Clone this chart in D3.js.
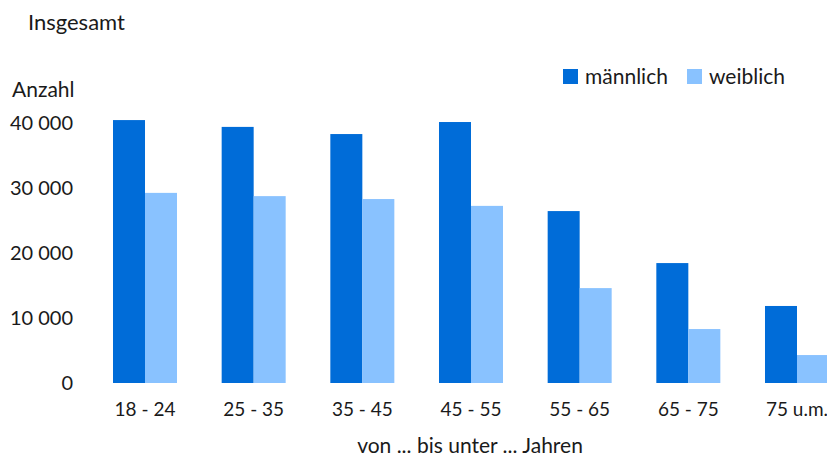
<!DOCTYPE html>
<html>
<head>
<meta charset="utf-8">
<script src="https://cdn.jsdelivr.net/npm/d3@7"></script>
<style>
  body { margin: 0; background: #fff; }
  text { font-family: Lato, "Noto Sans", sans-serif; fill: #1a1a1a; }
</style>
</head>
<body>
<div id="chart"></div>
<script>
var categories = ["18 - 24", "25 - 35", "35 - 45", "45 - 55", "55 - 65", "65 - 75", "75 u.m."];
var seriesNames = ["männlich", "weiblich"];
var maennlich = [40450, 39400, 38300, 40150, 26450, 18450, 11850];
var weiblich = [29250, 28750, 28300, 27250, 14600, 8300, 4300];
var yTicks = [0, 10000, 20000, 30000, 40000];
var colors = ["#006cd8", "#89c2ff"];

var width = 827, height = 458;
var svg = d3.select("#chart").append("svg").attr("width", width).attr("height", height);

var x0 = d3.scaleBand().domain(categories).range([113, 829]).paddingInner(0.411).paddingOuter(0);
var x1 = d3.scaleBand().domain(seriesNames).range([0, x0.bandwidth()]);
var y = d3.scaleLinear().domain([0, 40000]).range([383, 123]);

var fmt = function (d) { return d3.format(",")(d).replace(/,/g, " "); };

var rows = categories.map(function (c, i) {
  return { cat: c, values: [maennlich[i], weiblich[i]] };
});

var groups = svg.append("g").selectAll("g").data(rows).enter().append("g")
  .attr("transform", function (d) { return "translate(" + x0(d.cat) + ",0)"; });

groups.selectAll("rect").data(function (d) { return d.values; }).enter().append("rect")
  .attr("x", function (d, i) { return x1(seriesNames[i]); })
  .attr("width", x1.bandwidth())
  .attr("y", function (d) { return y(d); })
  .attr("height", function (d) { return y(0) - y(d); })
  .attr("fill", function (d, i) { return colors[i]; });

// y axis labels, no line
var yAxis = d3.axisLeft(y).tickValues(yTicks).tickSize(0).tickPadding(0).tickFormat(fmt);
var ya = svg.append("g").attr("transform", "translate(73,0)").call(yAxis);
ya.select(".domain").remove();
ya.selectAll("text").style("font-size", "20px").style("font-family", null).attr("fill", "#1a1a1a");

// x axis labels
var xAxis = d3.axisBottom(x0).tickSize(0).tickPadding(0);
var xa = svg.append("g").attr("transform", "translate(0,402)").call(xAxis);
xa.select(".domain").remove();
xa.selectAll("text").style("font-size", "19px").style("font-family", null).attr("fill", "#1a1a1a");

svg.append("text").attr("x", 28).attr("y", 30).style("font-size", "22px").text("Insgesamt");
svg.append("text").attr("x", 12).attr("y", 97).style("font-size", "21px").text("Anzahl");
svg.append("text").attr("x", 470).attr("y", 453).attr("text-anchor", "middle")
  .style("font-size", "21px").text("von ... bis unter ... Jahren");

// legend
var legendX = [563, 687];
var legend = svg.append("g").selectAll("g").data(seriesNames).enter().append("g")
  .attr("transform", function (d, i) { return "translate(" + legendX[i] + ",69)"; });
legend.append("rect").attr("width", 15).attr("height", 15).attr("fill", function (d, i) { return colors[i]; });
legend.append("text").attr("x", 22).attr("y", 15).style("font-size", "21px").text(function (d) { return d; });
</script>
</body>
</html>
